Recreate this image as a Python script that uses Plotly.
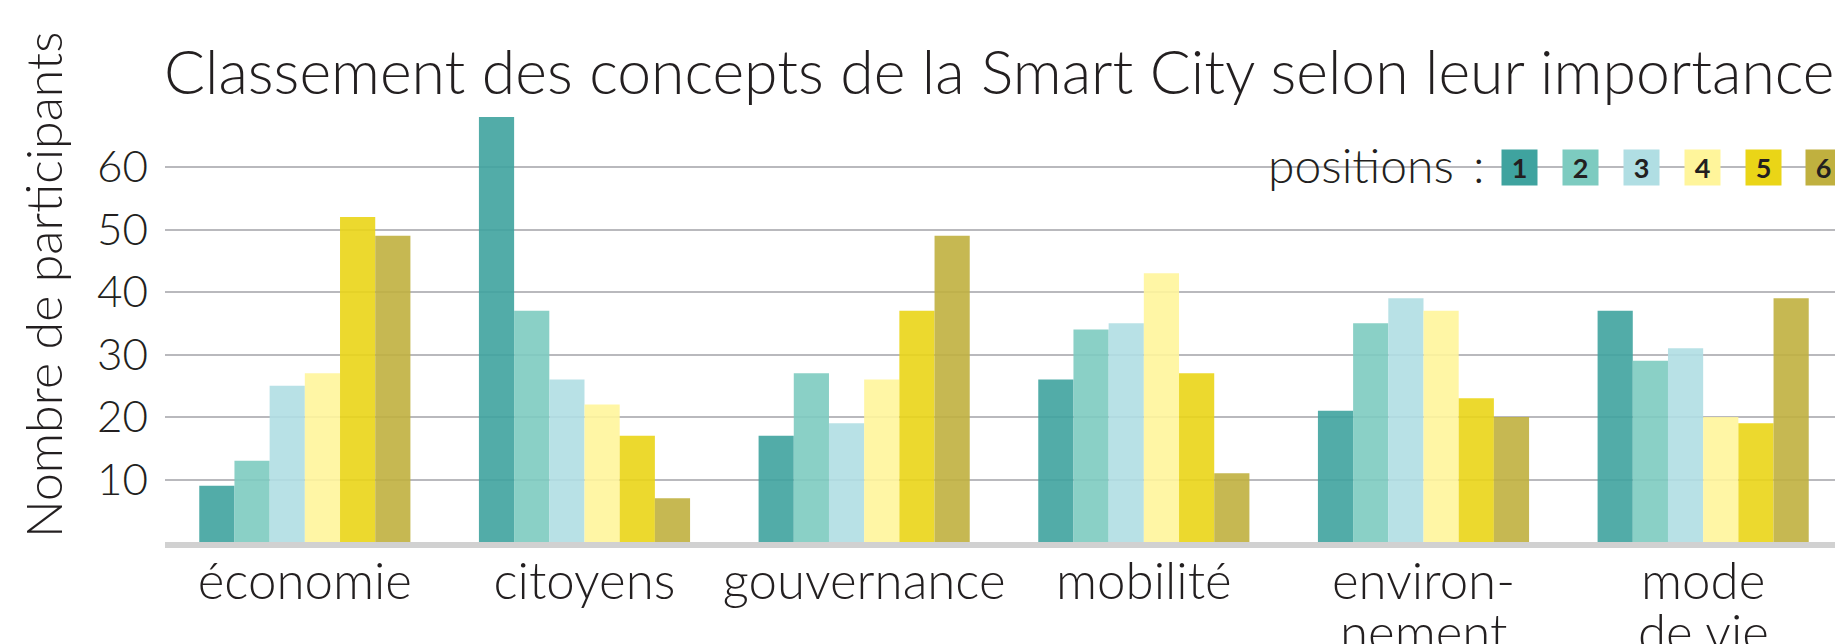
import plotly.graph_objects as go

categories = ["économie", "citoyens", "gouvernance", "mobilité", "environnement", "mode de vie"]
label_line1 = ["économie", "citoyens", "gouvernance", "mobilité", "environ-", "mode"]
label_line2 = ["", "", "", "", "nement", "de vie"]
positions = ["1", "2", "3", "4", "5", "6"]
pos1 = [9, 68, 17, 26, 21, 37]
pos2 = [13, 37, 27, 34, 35, 29]
pos3 = [25, 26, 19, 35, 39, 31]
pos4 = [27, 22, 26, 43, 37, 20]
pos5 = [52, 17, 37, 27, 23, 19]
pos6 = [49, 7, 49, 11, 20, 39]
series = [pos1, pos2, pos3, pos4, pos5, pos6]
colors = ["#3fa39f", "#7dcbc0", "#b0dee3", "#fff59b", "#ead517", "#c0b03f"]
yticks = [10, 20, 30, 40, 50, 60]

FONT = "Lato"
TXT = "#231f20"
OFF = 8  # default page body margin
W, H = 1843 - OFF, 644 - OFF
# plot area in screen pixels
SL, SR, ST, SB = 165, 1843, 92, 542
L, R, T, B = SL - OFF, 0, ST - OFF, H - (SB - OFF)

def px(xs):
    return (xs - SL) / (SR - SL)

def py(ys):
    return (SB - ys) / (SB - ST)

fig = go.Figure()
for name, vals, col in zip(positions, series, colors):
    fig.add_trace(go.Bar(x=categories, y=vals, name=name,
                         marker=dict(color=col, opacity=0.9, line=dict(width=0))))

annotations = [
    dict(text="Nombre de participants", textangle=-90, xref="paper", yref="paper",
         x=px(43), y=py(285), xanchor="center", yanchor="middle", showarrow=False,
         font=dict(family=FONT, size=50, color=TXT, weight=300)),
    dict(text="positions\u00a0\u2009:", xref="paper", yref="paper", x=px(1266), y=py(164),
         xanchor="left", yanchor="middle", showarrow=False,
         font=dict(family=FONT, size=48, color=TXT, weight=300)),
]
centers = [1519, 1580.5, 1641, 1702.5, 1763, 1823.5]
for name, col, cx in zip(positions, colors, centers):
    annotations.append(dict(text="<b>" + name + "</b>", xref="paper", yref="paper",
                            x=px(cx), y=py(167.5), xanchor="center", yanchor="middle",
                            width=35, height=35, bgcolor=col, borderpad=0, showarrow=False,
                            font=dict(family=FONT, size=27, color=TXT)))
for cat, l2 in zip(categories, label_line2):
    if l2:
        annotations.append(dict(text=l2, xref="x", yref="paper", x=cat, y=py(631),
                                xanchor="center", yanchor="middle", showarrow=False,
                                font=dict(family=FONT, size=51, color=TXT, weight=300)))

fig.update_layout(
    width=W, height=H,
    margin=dict(l=L, r=R, t=T, b=B, autoexpand=False),
    paper_bgcolor="white", plot_bgcolor="white",
    barmode="group", bargap=0.245, bargroupgap=0,
    showlegend=False,
    font=dict(family=FONT, color=TXT, weight=300),
    title=dict(text="Classement des concepts de la Smart City selon leur importance",
               x=156 / W, xanchor="left", xref="container",
               y=1 - 44 / H, yanchor="top", yref="container",
               font=dict(family=FONT, size=60.7, color=TXT, weight=300)),
    xaxis=dict(automargin=False, showgrid=False, showline=True, linecolor="#d1d1d1",
               linewidth=6, ticks="", tickvals=categories, ticktext=label_line1,
               tickfont=dict(family=FONT, size=51, color=TXT, weight=300),
               ticklabelstandoff=-10),
    yaxis=dict(automargin=False, range=[0, 72], tickvals=yticks, showgrid=True,
               gridcolor="#b9b9bd", gridwidth=2, zeroline=False, showline=False, ticks="",
               tickfont=dict(family=FONT, size=44, color=TXT, weight=300),
               ticklabelstandoff=16),
    annotations=annotations,
    shapes=[dict(type="rect", xref="paper", yref="paper", x0=px(1246), x1=1.0,
                 y0=py(180), y1=py(155), fillcolor="white", line=dict(width=0),
                 layer="between")],
)

fig.write_html("out.html")
